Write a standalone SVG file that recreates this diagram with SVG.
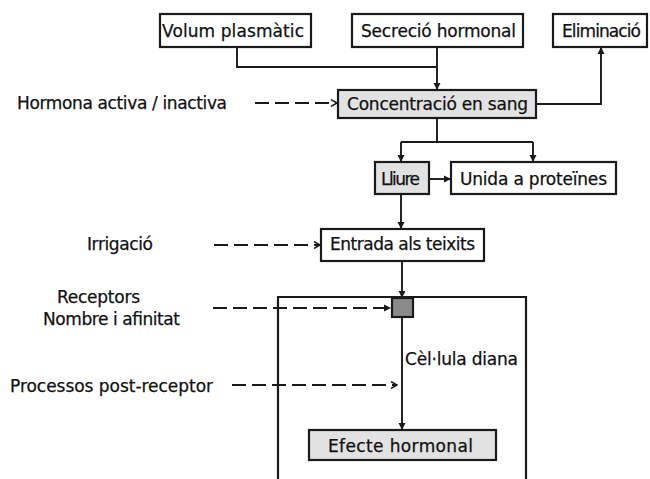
<svg xmlns="http://www.w3.org/2000/svg" width="650" height="479" viewBox="0 0 650 479">
  <style>
    .box { fill: #ffffff; stroke: #1a1a1a; stroke-width: 2.2; }
    .hl { fill: #e2e2e2; }
    .rec { fill: #8a8a8a; stroke: #1a1a1a; stroke-width: 2.2; }
    .lbl { font-family: "DejaVu Sans", "Liberation Sans", sans-serif; font-size: 17px; fill: #111111; stroke: #111111; stroke-width: 0.25; }
    .line { fill: none; stroke: #1a1a1a; stroke-width: 1.9; }
    .dash { fill: none; stroke: #1a1a1a; stroke-width: 1.8; stroke-dasharray: 14 6; }
    .cell { fill: none; stroke: #1a1a1a; stroke-width: 2.2; }
  </style>
  <defs>
    <marker id="arr" markerWidth="8" markerHeight="8" refX="7" refY="4" orient="auto" markerUnits="userSpaceOnUse">
      <path d="M0,0.5 L7,4 L0,7.5 Z" fill="#1a1a1a"/>
    </marker>
    <marker id="chev" markerWidth="8" markerHeight="8" refX="7" refY="4" orient="auto" markerUnits="userSpaceOnUse">
      <path d="M1,0.5 L7,4 L1,7.5" fill="none" stroke="#1a1a1a" stroke-width="1.5"/>
    </marker>
  </defs>

  <rect width="650" height="479" fill="#ffffff"/>

  <!-- target cell outline -->
  <path class="cell" d="M278,479 V297 H526 V479"/>

  <g id="connectors">
    <path class="line" d="M237,47 V67 H437"/>
    <path class="line" d="M437,47 V90" marker-end="url(#arr)"/>
    <path class="line" d="M536,104 H601 V47" marker-end="url(#arr)"/>
    <path class="dash" d="M255,103 H337" marker-end="url(#chev)"/>
    <path class="line" d="M437,118 V142"/>
    <path class="line" d="M401,142 H533"/>
    <path class="line" d="M401,142 V162" marker-end="url(#arr)"/>
    <path class="line" d="M533,142 V162" marker-end="url(#arr)"/>
    <path class="line" d="M429,179 H451" marker-end="url(#arr)"/>
    <path class="line" d="M401,194 V229" marker-end="url(#arr)"/>
    <path class="dash" d="M214,245 H320" marker-end="url(#chev)"/>
    <path class="line" d="M402,261 V298" marker-end="url(#arr)"/>
    <path class="dash" d="M213,308 H391" marker-end="url(#arr)"/>
    <path class="line" d="M402,317 V430" marker-end="url(#arr)"/>
    <path class="dash" d="M232,385 H397" marker-end="url(#chev)"/>
  </g>

  <g id="volum">
    <rect class="box" x="160" y="14" width="151" height="33"/>
    <text class="lbl" x="162" y="37" textLength="142">Volum plasmàtic</text>
  </g>
  <g id="secrecio">
    <rect class="box" x="352" y="14" width="171" height="33"/>
    <text class="lbl" x="361" y="37" textLength="155">Secreció hormonal</text>
  </g>
  <g id="eliminacio">
    <rect class="box" x="553" y="14" width="94" height="33"/>
    <text class="lbl" x="562" y="37" textLength="79">Eliminació</text>
  </g>
  <g id="concentracio">
    <rect class="box hl" x="338" y="90" width="198" height="28"/>
    <text class="lbl" x="347" y="110" textLength="181">Concentració en sang</text>
  </g>
  <g id="hormona">
    <text class="lbl" x="17" y="109" textLength="210">Hormona activa / inactiva</text>
  </g>
  <g id="lliure">
    <rect class="box hl" x="375" y="162" width="54" height="32"/>
    <text class="lbl" x="381" y="185" textLength="39">Lliure</text>
  </g>
  <g id="unida">
    <rect class="box" x="451" y="162" width="165" height="32"/>
    <text class="lbl" x="460" y="185" textLength="147">Unida a proteïnes</text>
  </g>
  <g id="irrigacio">
    <text class="lbl" x="87" y="250" textLength="66">Irrigació</text>
  </g>
  <g id="entrada">
    <rect class="box" x="321" y="229" width="163" height="32"/>
    <text class="lbl" x="330" y="250" textLength="145">Entrada als teixits</text>
  </g>
  <g id="receptors">
    <text class="lbl" x="57" y="303" textLength="83">Receptors</text>
    <text class="lbl" x="43" y="325" textLength="137">Nombre i afinitat</text>
  </g>
  <g id="receptor">
    <rect class="rec" x="392" y="298" width="21" height="19"/>
  </g>
  <g id="diana">
    <text class="lbl" x="405" y="365" textLength="113">Cèl·lula diana</text>
  </g>
  <g id="postreceptor">
    <text class="lbl" x="10" y="392" textLength="203">Processos post-receptor</text>
  </g>
  <g id="efecte">
    <rect class="box hl" x="309" y="430" width="187" height="30"/>
    <text class="lbl" x="328" y="452" textLength="145">Efecte hormonal</text>
  </g>
</svg>
